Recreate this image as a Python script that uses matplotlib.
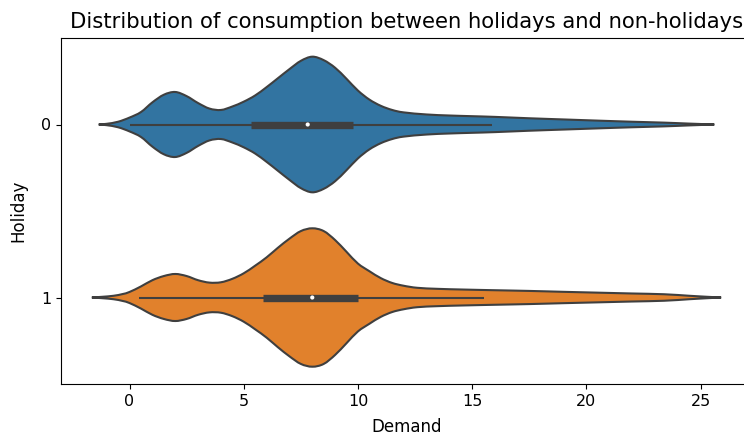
import matplotlib
matplotlib.use("Agg")
import matplotlib.pyplot as plt
from matplotlib.path import Path
from matplotlib.patches import PathPatch
import numpy as np

# Holiday groups shown on the categorical axis
categories = ["0", "1"]
colors = ["#3274a1", "#e1812c"]

# Density profile of Demand for non-holidays (Holiday = 0), relative to the widest violin
demand_grid_0 = [-1.35, -1.0, -0.5, 0.0, 0.5, 1.0, 1.5, 2.0, 2.5, 3.0, 3.5, 4.0, 4.5,
                 5.0, 5.5, 6.0, 6.5, 7.0, 7.5, 8.0, 8.5, 9.0, 9.5, 10.0, 10.5, 11.0,
                 11.5, 12.0, 13.0, 14.0, 15.0, 16.0, 17.5, 19.0, 20.5, 22.0, 23.4,
                 24.5, 25.6]
density_0 = [0.0, 0.01, 0.04, 0.10, 0.18, 0.32, 0.43, 0.47, 0.41, 0.31, 0.23, 0.21,
             0.26, 0.33, 0.42, 0.54, 0.67, 0.80, 0.92, 0.98, 0.93, 0.82, 0.66, 0.49,
             0.36, 0.27, 0.21, 0.175, 0.145, 0.13, 0.12, 0.11, 0.09, 0.073, 0.056,
             0.04, 0.027, 0.013, 0.0]

# Density profile of Demand for holidays (Holiday = 1)
demand_grid_1 = [-1.65, -1.2, -0.7, -0.3, 0.0, 0.5, 1.0, 1.5, 2.0, 2.5, 3.0, 3.5, 4.0,
                 4.5, 5.0, 5.5, 6.0, 6.5, 7.0, 7.5, 8.0, 8.5, 9.0, 9.5, 10.0, 10.5,
                 11.0, 11.5, 12.0, 12.6, 13.5, 14.6, 16.0, 17.5, 19.0, 20.5, 22.0,
                 23.4, 24.5, 25.3, 25.9]
density_1 = [0.0, 0.01, 0.025, 0.05, 0.08, 0.16, 0.25, 0.31, 0.34, 0.31, 0.25, 0.215,
             0.22, 0.27, 0.35, 0.46, 0.58, 0.72, 0.85, 0.96, 1.0, 0.96, 0.83, 0.66,
             0.49, 0.38, 0.28, 0.21, 0.17, 0.14, 0.125, 0.115, 0.105, 0.095, 0.082,
             0.07, 0.058, 0.047, 0.025, 0.01, 0.0]

# Box summary: lower whisker, Q1, median, Q3, upper whisker
box_stats_0 = [0.0, 5.3, 7.8, 9.8, 15.85]
box_stats_1 = [0.4, 5.85, 8.0, 10.0, 15.5]

grids = [demand_grid_0, demand_grid_1]
densities = [density_0, density_1]
box_stats = [box_stats_0, box_stats_1]

edge = "#3f3f3f"
half_width = 0.4


def smooth_outline(pts):
    """Catmull-Rom curve through the points, expressed as cubic Bezier segments."""
    pts = np.asarray(pts, dtype=float)
    verts = [pts[0]]
    codes = [Path.MOVETO]
    n = len(pts)
    for k in range(n - 1):
        p0 = pts[max(k - 1, 0)]
        p1 = pts[k]
        p2 = pts[k + 1]
        p3 = pts[min(k + 2, n - 1)]
        c1 = p1 + (p2 - p0) / 6.0
        c2 = p2 - (p3 - p1) / 6.0
        verts.extend([c1, c2, p2])
        codes.extend([Path.CURVE4] * 3)
    return verts, codes


fig = plt.figure(figsize=(7.44, 4.37), dpi=100)
ax = fig.add_axes([61 / 744, 53 / 437, 691 / 744, 346 / 437])

for i in range(len(categories)):
    x = np.asarray(grids[i], dtype=float)
    d = np.asarray(densities[i], dtype=float) * half_width
    upper = np.column_stack([x, i - d])
    lower = np.column_stack([x[::-1], (i + d)[::-1]])
    v_up, c_up = smooth_outline(upper)
    v_lo, c_lo = smooth_outline(lower)
    verts = v_up + v_lo[1:] + [v_up[0]]
    codes = c_up + c_lo[1:] + [Path.CLOSEPOLY]
    patch = PathPatch(Path(verts, codes), facecolor=colors[i], edgecolor=edge,
                      linewidth=1.5, zorder=1)
    ax.add_patch(patch)
    lo, q1, med, q3, hi = box_stats[i]
    ax.plot([lo, hi], [i, i], color=edge, linewidth=1.5, solid_capstyle="butt", zorder=2)
    ax.plot([q1, q3], [i, i], color=edge, linewidth=5.3, solid_capstyle="butt", zorder=3)
    ax.scatter([med], [i], s=9, color="white", edgecolor="none", zorder=4)

ax.set_ylim(1.5, -0.5)
ax.set_xlim(-3.0, 27.25)
ax.set_yticks(range(len(categories)))
ax.set_yticklabels(categories)
ax.set_xticks([0, 5, 10, 15, 20, 25])
ax.tick_params(labelsize=11.5)
ax.spines["right"].set_visible(False)
ax.set_xlabel("Demand", fontsize=12, labelpad=7)
ax.set_ylabel("Holiday", fontsize=12, labelpad=10)
ax.set_title("Distribution of consumption between holidays and non-holidays",
             fontsize=15.2, pad=7)

fig.savefig("out.png", dpi=100)
